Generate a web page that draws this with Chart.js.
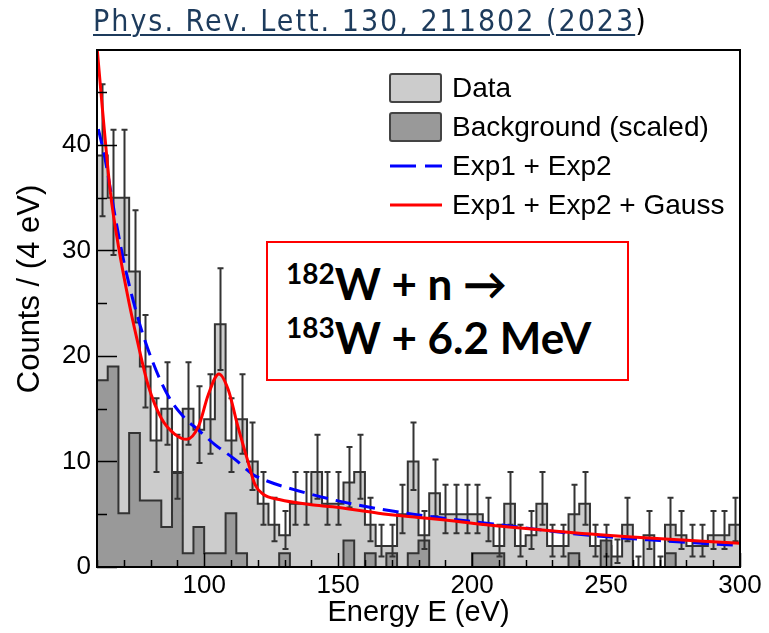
<!DOCTYPE html>
<html>
<head>
<meta charset="utf-8">
<script src="https://cdn.jsdelivr.net/npm/chart.js@4.4.1/dist/chart.umd.min.js"></script>
<style>
  html, body { margin: 0; padding: 0; background: #fff; }
  #wrap { position: relative; width: 769px; height: 633px; }
  #title { position: absolute; left: 93px; top: 3px; font-family: 'DejaVu Sans Condensed', 'DejaVu Sans', sans-serif; font-size: 30px; letter-spacing: 2px; color: #1d3b5c; white-space: nowrap; }
  #title span { text-decoration: underline; text-decoration-thickness: 2px; text-underline-offset: 3px; }
  #title b { font-weight: normal; color: #000; }
  #note { position: absolute; left: 266px; top: 241px; width: 359px; height: 136px; border: 2px solid #ff0000; background: #fff;
          font-family: Lato, 'Open Sans', sans-serif; font-weight: bold; font-size: 44px; color: #000; }
  #note div { position: absolute; left: 18px; white-space: nowrap; }
  #note sup { font-size: 28px; vertical-align: 16px; line-height: 0; }
</style>
</head>
<body>
<div id="wrap">
  <canvas id="chart" width="769" height="633"></canvas>
  <div id="title"><span>Phys. Rev. Lett. 130, 211802 (2023</span><b>)</b></div>
  <div id="note">
    <div style="top:14px"><sup>182</sup>W + n &rarr;</div>
    <div style="top:68px"><sup>183</sup>W + 6.2 MeV</div>
  </div>
</div>
<script>
// histogram bins (4 eV wide), left edges
const binStart = [60, 64, 68, 72, 76, 80, 84, 88, 92, 96, 100, 104, 108, 112, 116, 120, 124, 128, 132, 136,
  140, 144, 148, 152, 156, 160, 164, 168, 172, 176, 180, 184, 188, 192, 196, 200, 204, 208, 212, 216,
  220, 224, 228, 232, 236, 240, 244, 248, 252, 256, 260, 264, 268, 272, 276, 280, 284, 288, 292, 296];
const binWidth = 4;

const dataCounts = [39, 35, 35, 28, 19, 12, 15, 9, 15, 13, 14, 23, 12, 14, 10, 6, 4, 3, 6, 6,
  9, 6, 6, 8, 9, 4, 2, 2, 5, 10, 3, 7, 5, 5, 5, 5, 4, 2, 6, 2,
  3, 6, 2, 2, 5, 6, 2, 2, 1, 4, 0, 3, 0, 4, 3, 2, 2, 3, 3, 4];

const bkgScaled = [17.7, 19.0, 5.1, 12.7, 6.3, 6.3, 3.8, 8.9, 1.3, 3.8, 1.3, 1.3, 5.1, 1.3, 0, 0, 0, 1.3, 0, 0,
  0, 0, 0, 2.5, 0, 1.3, 0, 1.3, 0, 1.3, 2.5, 0, 0, 0, 0, 1.3, 1.3, 1.3, 0, 0,
  0, 0, 0, 0, 1.3, 0, 0, 2.5, 0, 0, 0, 0, 0, 1.3, 0, 0, 0, 0, 0, 0];

// fit curves
const fullE = [60, 62, 65, 68, 72, 75, 79, 84, 89, 93.5, 98, 101.5, 105.5, 109, 112.5, 116, 119, 122, 128, 140, 148, 165, 180, 190, 207, 238, 269, 300];
const fullFit = [49.3, 43.5, 35.5, 30.4, 25.0, 21.5, 17.3, 14.1, 12.6, 12.1, 13.4, 16.3, 18.3, 16.8, 13.4, 10.3, 7.8, 6.9, 6.4, 5.9, 5.7, 5.1, 4.7, 4.45, 3.95, 3.25, 2.7, 2.24];
const bkgFitE = [60.5, 63, 66.7, 70.4, 75.4, 80.4, 86.6, 92.8, 97.8, 104, 111.5, 118, 123, 134, 153, 178, 207, 244, 270, 299];
const bkgFit = [41.5, 38.7, 33.3, 28.5, 23.5, 19.7, 16.2, 14.1, 13.0, 11.6, 10.2, 8.8, 8.2, 7.3, 6.1, 5.0, 4.1, 3.0, 2.5, 2.05];

const xTickLabels = [100, 150, 200, 250, 300];
const yTickLabels = [0, 10, 20, 30, 40];
const seriesNames = ['Data', 'Background (scaled)', 'Exp1 + Exp2', 'Exp1 + Exp2 + Gauss'];
const yTitle = 'Counts / (4 eV)';

// histogram outline: step through bin centres, pinned at both edges
function histPoints(vals) {
  const last = binStart.length - 1;
  const pts = [{ x: binStart[0], y: vals[0] }];
  vals.forEach((v, i) => pts.push({ x: binStart[i] + binWidth / 2, y: v }));
  pts.push({ x: binStart[last] + binWidth, y: vals[last] });
  return pts;
}
const curve = (xs, ys) => xs.map((x, i) => ({ x, y: ys[i] }));

// error bars for the data (approx. Poisson interval)
const errorBars = {
  id: 'errorBars',
  afterDatasetDraw(chart, args) {
    if (args.index !== 1) return;
    const { ctx, scales: { x, y } } = chart;
    ctx.save();
    ctx.strokeStyle = '#333';
    ctx.lineWidth = 2;
    dataCounts.forEach((n, i) => {
      const px = Math.round(x.getPixelForValue(binStart[i] + binWidth / 2)) + 0.5;
      const lo = y.getPixelForValue(Math.max(0, n + 0.5 - Math.sqrt(n + 0.25)));
      const hi = y.getPixelForValue(n + 0.5 + Math.sqrt(n + 0.25));
      ctx.beginPath();
      ctx.moveTo(px, lo); ctx.lineTo(px, hi);
      ctx.moveTo(px - 3, hi); ctx.lineTo(px + 3, hi);
      if (n > 0) { ctx.moveTo(px - 3, lo); ctx.lineTo(px + 3, lo); }
      ctx.stroke();
    });
    ctx.restore();
  }
};

// ROOT style frame with inward ticks, y title sits a bit above centre
const frameTicks = {
  id: 'frameTicks',
  afterDatasetsDraw(chart) {
    const { ctx, chartArea: a, scales: { x, y } } = chart;
    ctx.save();
    ctx.strokeStyle = '#000';
    ctx.lineWidth = 1.5;
    ctx.beginPath();
    for (let v = 0; v <= 45; v += 5) {
      const py = Math.round(y.getPixelForValue(v)) + 0.5;
      ctx.moveTo(a.left, py); ctx.lineTo(a.left + (v % 10 === 0 ? 20 : 10), py);
    }
    for (let e = 60; e <= 300; e += 10) {
      const px = Math.round(x.getPixelForValue(e)) + 0.5;
      ctx.moveTo(px, a.bottom); ctx.lineTo(px, a.bottom - (e % 50 === 0 ? 14 : 7));
    }
    ctx.stroke();
    ctx.lineWidth = 2;
    ctx.strokeRect(a.left, a.top, a.right - a.left, a.bottom - a.top);

    ctx.translate(30, 289);
    ctx.rotate(-Math.PI / 2);
    ctx.font = '31px "Liberation Sans", Arial, sans-serif';
    ctx.fillStyle = '#000';
    ctx.textAlign = 'center';
    ctx.textBaseline = 'middle';
    ctx.fillText(yTitle, 0, 0);
    ctx.restore();
  }
};

// legend inside the frame, top right
const boxLegend = {
  id: 'boxLegend',
  afterDraw(chart) {
    const { ctx } = chart;
    const ds = chart.data.datasets;
    const items = [ds[0], ds[1], ds[3], ds[2]];
    ctx.save();
    ctx.font = '28px "Liberation Sans", Arial, sans-serif';
    ctx.textBaseline = 'middle';
    items.forEach((d, i) => {
      const cy = 88 + i * 39;
      if (d.fill) {
        ctx.fillStyle = d.backgroundColor;
        ctx.strokeStyle = '#444';
        ctx.lineWidth = 2;
        ctx.beginPath();
        ctx.roundRect(390, cy - 14, 51, 28, 2);
        ctx.fill(); ctx.stroke();
      } else {
        ctx.strokeStyle = d.borderColor;
        ctx.lineWidth = 3;
        ctx.setLineDash(d.borderDash ? [26, 9] : []);
        ctx.beginPath();
        ctx.moveTo(390, cy); ctx.lineTo(442, cy);
        ctx.stroke();
        ctx.setLineDash([]);
      }
      ctx.fillStyle = '#000';
      ctx.fillText(d.label, 452, cy + 1);
    });
    ctx.restore();
  }
};

Chart.defaults.font.family = '"Liberation Sans", Arial, sans-serif';
Chart.defaults.color = '#000';

new Chart(document.getElementById('chart'), {
  type: 'line',
  data: {
    datasets: [
      { label: seriesNames[0], data: histPoints(dataCounts), stepped: 'middle', fill: 'origin',
        backgroundColor: '#cccccc', borderColor: '#333333', borderWidth: 2, pointRadius: 0, order: 4 },
      { label: seriesNames[1], data: histPoints(bkgScaled), stepped: 'middle', fill: 'origin',
        backgroundColor: '#999999', borderColor: '#333333', borderWidth: 2, pointRadius: 0, order: 3 },
      { label: seriesNames[3], data: curve(fullE, fullFit), borderColor: '#ff0000', borderWidth: 3,
        cubicInterpolationMode: 'monotone', pointRadius: 0, fill: false, order: 0 },
      { label: seriesNames[2], data: curve(bkgFitE, bkgFit), borderColor: '#0000ff', borderWidth: 3,
        borderDash: [16, 8], cubicInterpolationMode: 'monotone', pointRadius: 0, fill: false, order: 1 }
    ]
  },
  options: {
    responsive: false,
    animation: false,
    events: [],
    layout: { padding: { top: 50, right: 29, left: 0, bottom: 0 } },
    plugins: { legend: { display: false }, tooltip: { enabled: false } },
    scales: {
      x: {
        type: 'linear', min: 60, max: 300,
        afterFit: s => { s.height = 66; },
        afterBuildTicks: s => { s.ticks = xTickLabels.map(v => ({ value: v })); },
        grid: { display: false, drawTicks: false },
        border: { display: false },
        ticks: { font: { size: 26 }, padding: 3, maxRotation: 0 },
        title: { display: true, text: 'Energy E (eV)', font: { size: 29 }, padding: { top: 0, bottom: 3 } }
      },
      y: {
        min: 0, max: 49,
        afterFit: s => { s.width = 97; },
        afterBuildTicks: s => { s.ticks = yTickLabels.map(v => ({ value: v })); },
        grid: { display: false, drawTicks: false },
        border: { display: false },
        ticks: { font: { size: 26 }, padding: 6 }
      }
    }
  },
  plugins: [errorBars, frameTicks, boxLegend]
});
</script>
</body>
</html>
